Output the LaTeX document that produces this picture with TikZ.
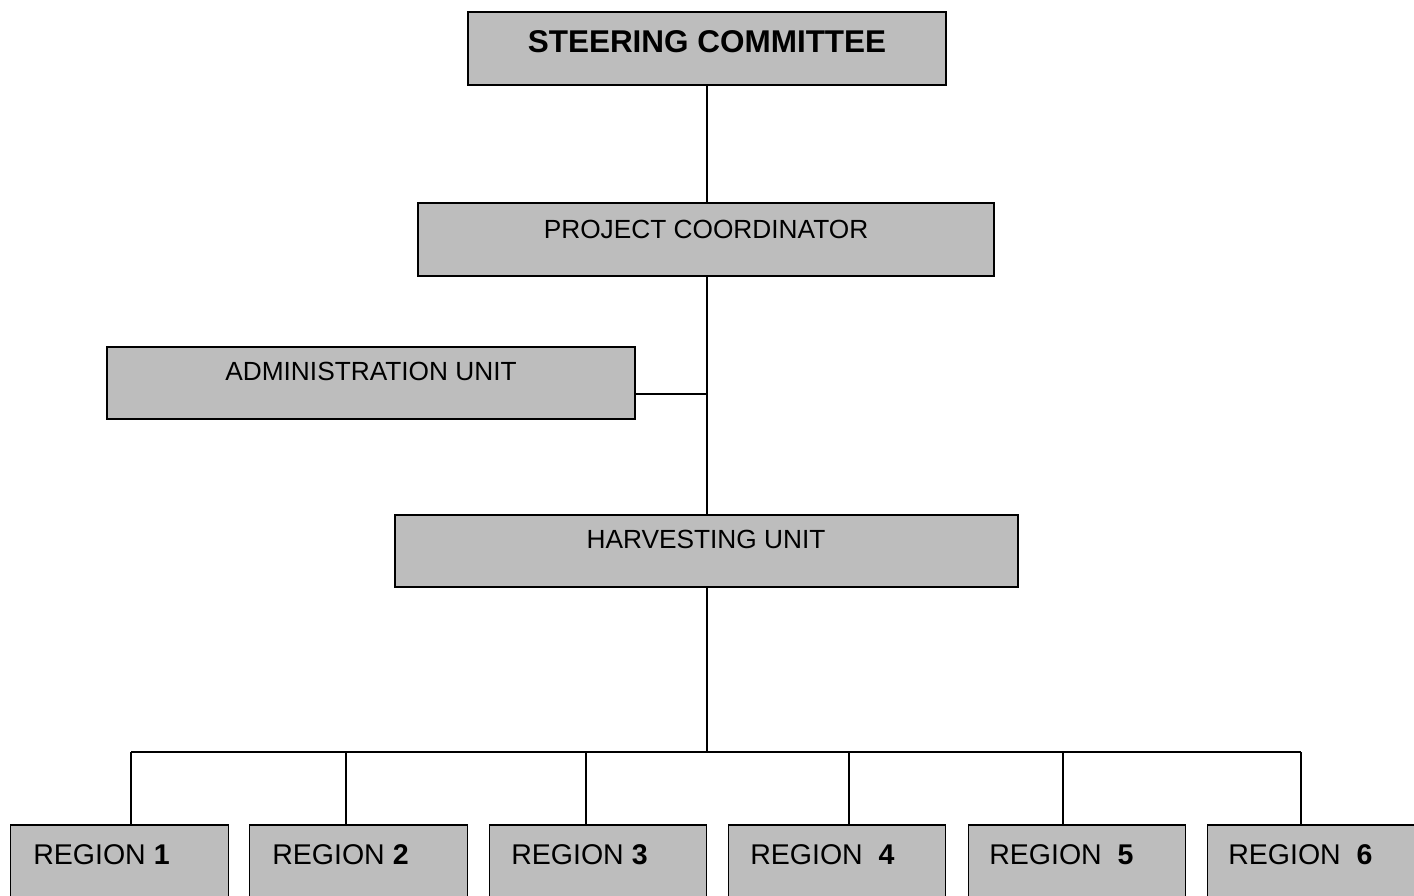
\documentclass[tikz,border=0pt]{standalone}
\usepackage{fontspec}
\setmainfont{Liberation Sans}
\begin{document}
\begin{tikzpicture}[x=0.75pt,y=-0.75pt,
  box/.style={draw=black,line width=0.9pt,fill=black!26,inner sep=0pt},
  regbox/.style={box,minimum width=163pt,minimum height=67.5pt},
  wire/.style={line width=1.6pt},
  lbl/.style={inner sep=0pt,font=\fontsize{19.7}{22}\selectfont},
  reg/.style={inner sep=0pt,font=\fontsize{21.4}{24}\selectfont},
  bigl/.style={inner sep=0pt,font=\fontsize{23.6}{26}\selectfont\bfseries}]
\useasboundingbox (0,0) rectangle (1414,896);
\clip (0,0) rectangle (1414,896);
\fill[white] (0,0) rectangle (1414,896);
% boxes
\node[box,minimum width=358.5pt,minimum height=54.75pt] (sc) at (707,48.5) {};
\node[box,minimum width=432pt,minimum height=54.75pt] (pc) at (706,239.5) {};
\node[box,minimum width=396pt,minimum height=54pt] (au) at (371,383) {};
\node[box,minimum width=467.25pt,minimum height=54pt] (hu) at (706.5,551) {};
\node[regbox] (r1) at (119.5,870) {};
\node[regbox] (r2) at (358.5,870) {};
\node[regbox] (r3) at (598,870) {};
\node[regbox] (r4) at (837,870) {};
\node[regbox] (r5) at (1077,870) {};
\node[regbox] (r6) at (1316,870) {};
% texts
\node[bigl,anchor=base] (sct) at (707,52) {STEERING COMMITTEE};
\node[lbl,anchor=base] (pct) at (706,238) {PROJECT COORDINATOR};
\node[lbl,anchor=base] (aut) at (371,380) {ADMINISTRATION UNIT};
\node[lbl,anchor=base] (hut) at (706,548) {HARVESTING UNIT};
\node[reg,anchor=base west] (r1t) at (33,864) {REGION \textbf{1}};
\node[reg,anchor=base west] (r2t) at (272,864) {REGION \textbf{2}};
\node[reg,anchor=base west] (r3t) at (511,864) {REGION \textbf{3}};
\node[reg,anchor=base west] (r4t) at (750,864) {REGION\ \ \textbf{4}};
\node[reg,anchor=base west] (r5t) at (989,864) {REGION\ \ \textbf{5}};
\node[reg,anchor=base west] (r6t) at (1228,864) {REGION\ \ \textbf{6}};
% connectors
\coordinate (bus) at (707,752);
\coordinate (aj) at (707,394);
\coordinate (b1) at (131,752);
\coordinate (b2) at (346,752);
\coordinate (b3) at (586,752);
\coordinate (b4) at (849,752);
\coordinate (b5) at (1063,752);
\coordinate (b6) at (1301,752);
\draw[wire] (sc.south) -- (sc.south |- pc.north);
\draw[wire] (sc.south |- pc.south) -- (sc.south |- hu.north);
\draw[wire] (au.east |- aj) -- (aj);
\draw[wire] (sc.south |- hu.south) -- (bus);
\draw[wire] (b1) -- (b6);
\draw[wire] (b1) -- (b1 |- r1.north);
\draw[wire] (b2) -- (b2 |- r2.north);
\draw[wire] (b3) -- (b3 |- r3.north);
\draw[wire] (b4) -- (b4 |- r4.north);
\draw[wire] (b5) -- (b5 |- r5.north);
\draw[wire] (b6) -- (b6 |- r6.north);
\end{tikzpicture}
\end{document}
